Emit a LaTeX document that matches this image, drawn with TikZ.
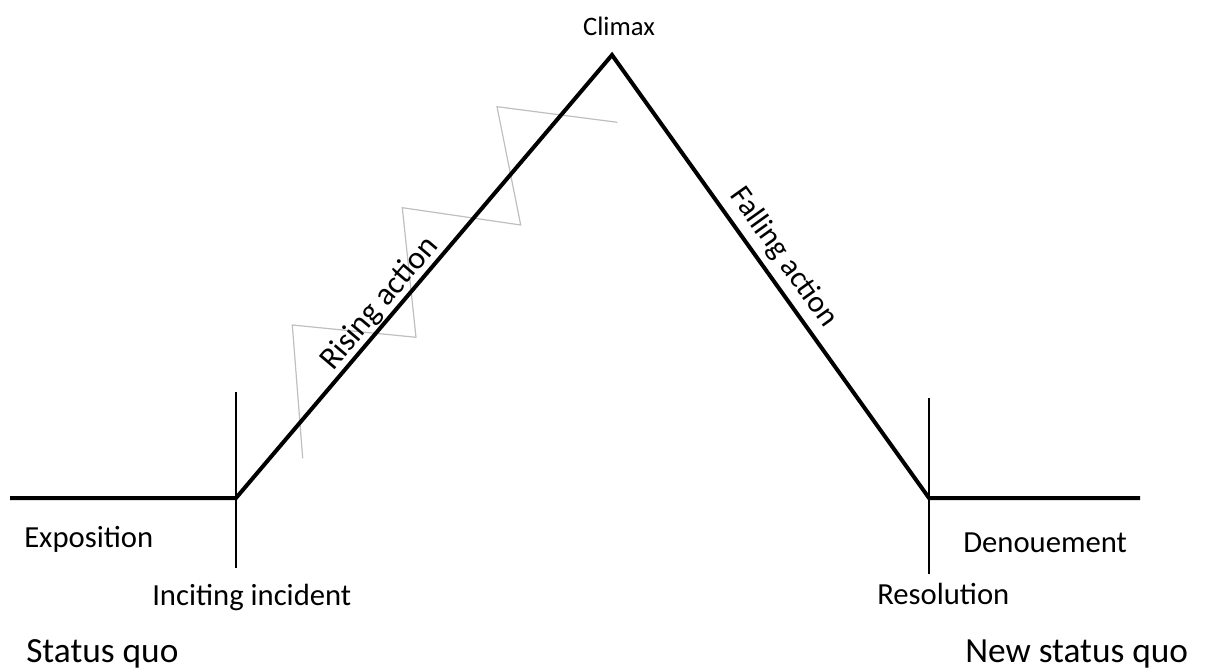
\documentclass[tikz,border=0pt]{standalone}
\usepackage{fontspec}
\setmainfont{Carlito}
\usetikzlibrary{positioning}

\tikzset{
  arcline/.style={line width=3pt, line join=miter},
  tickline/.style={line width=2pt},
  zigline/.style={black!25, line width=0.9pt},
  lbl/.style={inner sep=0pt, font=\fontsize{23}{27}\selectfont},
  biglbl/.style={inner sep=0pt, font=\fontsize{26.5}{31}\selectfont},
}

\begin{document}
\begin{tikzpicture}[x=0.75pt, y=-0.75pt]
  \useasboundingbox (0,0) rectangle (1205,667);

  % story points
  \coordinate (start)  at (10,498);
  \coordinate (incite) at (236,498);
  \coordinate (climax) at (612,55);
  \coordinate (resol)  at (929,498);
  \coordinate (finish) at (1140,498);
  \coordinate (inciteTop) at (236,392);
  \coordinate (inciteBot) at (236,568);
  \coordinate (resolTop)  at (929,398);
  \coordinate (resolBot)  at (929,574);

  % zigzag of tension
  \draw[zigline] (302.7,458.3) -- (292.3,325) -- (416,337.3) -- (402.3,207.7)
        -- (520.7,225) -- (497,106.7) -- (617.3,122.3);

  \draw[arcline] (start) -- (incite) -- (climax) -- (resol) -- (finish);
  \draw[tickline] (inciteTop) -- (inciteBot);
  \draw[tickline] (resolTop) -- (resolBot);

  \path (incite) -- (climax)
        node[lbl, font=\fontsize{24}{28}\selectfont, pos=0.415, sloped,
             above=1.5pt] (rising) {Rising action};
  \path (climax) -- (resol)
        node[lbl, pos=0.486, sloped, above=6pt] (falling) {Falling action};

  \node[lbl, font=\fontsize{20}{24}\selectfont, anchor=base] (climaxLbl)
        at (619,36) {Climax};
  \node[lbl, anchor=base west] (expo) at (24,547) {Exposition};
  \node[lbl, anchor=base west] (inciting) at (152,605) {Inciting incident};
  \node[biglbl, anchor=base west] (statusquo) at (26,662) {Status quo};
  \node[lbl, anchor=base west] (denoue) at (963,552) {Denouement};
  \node[lbl, anchor=base west] (resolution) at (877,604) {Resolution};
  \node[biglbl, anchor=base west] (newquo) at (965,662) {New status quo};
\end{tikzpicture}
\end{document}
